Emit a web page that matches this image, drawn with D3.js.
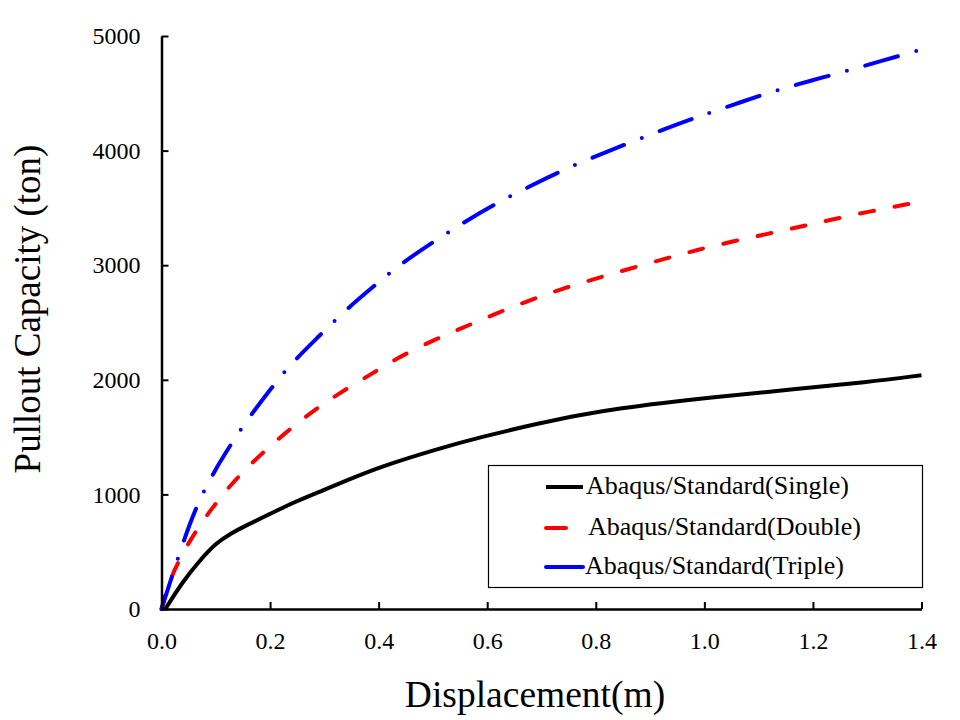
<!DOCTYPE html>
<html><head><meta charset="utf-8">
<script src="https://cdn.jsdelivr.net/npm/d3@7"></script>
<style>body{margin:0;background:#fff}svg{display:block}text{font-family:'Liberation Serif','Times New Roman',serif}</style>
</head><body>
<svg id="c" width="960" height="720"></svg>
<script>
const singleX = [0.007,0.04,0.07,0.1,0.13,0.151,0.2,0.243,0.3,0.335,0.402,0.5,0.587,0.7,0.771,0.85,0.918,1.0,1.164,1.3,1.4];
const singleY = [0,245,420,575,665,718,830,930,1040,1110,1240,1385,1500,1625,1695,1755,1795,1840,1917,1980,2040];
const doubleX = [0,0.016,0.0556,0.0925,0.132,0.178,0.227,0.277,0.329,0.384,0.433,0.501,0.559,0.617,0.679,0.74,0.802,0.863,0.93,0.986,1.05,1.115,1.176,1.237,1.302,1.366,1.4];
const doubleY = [0,282,631,878,1111,1329,1533,1722,1888,2042,2188,2347,2463,2580,2696,2798,2886,2970,3060,3133,3205,3272,3336,3400,3467,3525,3555];
const tripleX = [0,0.019,0.0525,0.081,0.117,0.154,0.197,0.238,0.286,0.337,0.39,0.442,0.501,0.559,0.617,0.679,0.74,0.805,0.934,0.998,1.064,1.13,1.196,1.262,1.328,1.385,1.4];
const tripleY = [0,282,762,1067,1358,1626,1896,2138,2362,2600,2813,3016,3205,3380,3540,3691,3831,3962,4203,4311,4418,4523,4610,4695,4784,4863,4880];
const seriesNames = ["Abaqus/Standard(Single)","Abaqus/Standard(Double)","Abaqus/Standard(Triple)"];
const xTicks = [0,0.2,0.4,0.6,0.8,1.0,1.2,1.4];
const yTicks = [0,1000,2000,3000,4000,5000];

const svg = d3.select("#c");
const x = d3.scaleLinear().domain([0,1.4]).range([161.5,921.5]);
const y = d3.scaleLinear().domain([0,5000]).range([609,36]);
const font = "'Liberation Serif','Times New Roman',serif";

const series = [
  {name:seriesNames[0], xs:singleX, ys:singleY, color:"#000000", dash:null},
  {name:seriesNames[1], xs:doubleX, ys:doubleY, color:"#ff0000", dash:"14,21"},
  {name:seriesNames[2], xs:tripleX, ys:tripleY, color:"#0000ff", dash:"34,19,0,19"}
];
const line = d3.line().x(d=>x(d[0])).y(d=>y(d[1])).curve(d3.curveBasis);
series.forEach(s=>{
  svg.append("path").datum(s.xs.map((v,i)=>[v,s.ys[i]]))
    .attr("d",line).attr("fill","none").attr("stroke",s.color)
    .attr("stroke-width",4).attr("stroke-linecap", s.dash? "round":"butt")
    .attr("stroke-linejoin","round")
    .attr("stroke-dasharray",s.dash);
});

// axes
const xAxis = d3.axisBottom(x).tickValues(xTicks).tickSizeInner(-7).tickSizeOuter(0).tickPadding(23).tickFormat(d3.format(".1f"));
const gx = svg.append("g").attr("transform","translate(0,609)").call(xAxis);
const yAxis = d3.axisLeft(y).tickValues(yTicks).tickSizeInner(-7).tickSizeOuter(0).tickPadding(21).tickFormat(d3.format("d"));
const gy = svg.append("g").attr("transform","translate(161.5,0)").call(yAxis);
[gx,gy].forEach(g=>{
  g.attr("font-family",font).attr("font-size",24);
  g.select(".domain").attr("stroke","#000").attr("stroke-width",2.5);
  g.selectAll(".tick line").attr("stroke","#000").attr("stroke-width",2);
  g.selectAll("text").attr("font-family",font).attr("font-size",24).attr("fill","#000");
});

svg.append("text").attr("x",535).attr("y",707).attr("text-anchor","middle")
  .attr("font-family",font).attr("font-size",37.5).text("Displacement(m)");
svg.append("text").attr("transform","translate(40,309) rotate(-90)").attr("text-anchor","middle")
  .attr("font-family",font).attr("font-size",37).text("Pullout Capacity (ton)");

// legend
const lg = svg.append("g");
lg.append("rect").attr("x",488.5).attr("y",465.5).attr("width",434).attr("height",122)
  .attr("fill","#fff").attr("stroke","#000").attr("stroke-width",1.2);
const rows = [487,528,567];
const lineEnd = [583,566,583];
const textX = [586,588,585];
series.forEach((s,i)=>{
  lg.append("line").attr("x1",546).attr("x2",lineEnd[i]).attr("y1",rows[i]).attr("y2",rows[i])
    .attr("stroke",s.color).attr("stroke-width",4).attr("stroke-linecap", s.dash?"round":"butt");
  lg.append("text").attr("x", textX[i]).attr("y",rows[i]+7).attr("font-family",font)
    .attr("font-size",26).text(s.name);
});
</script>
</body></html>
